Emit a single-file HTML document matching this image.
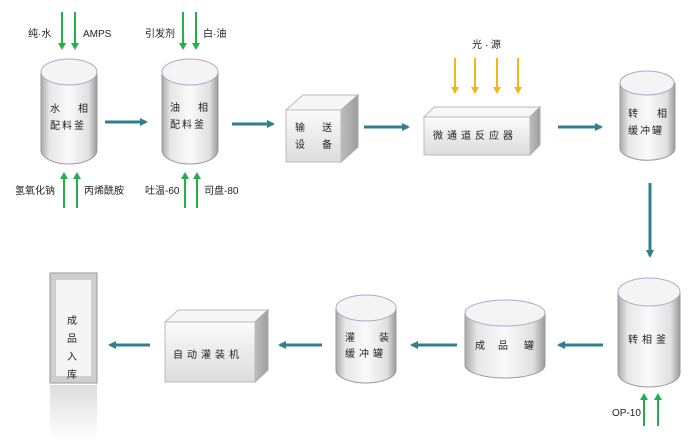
<!DOCTYPE html>
<html><head><meta charset="utf-8"><style>
html,body{margin:0;padding:0;background:#fff;}
svg{display:block;}
text{font-family:"Liberation Sans","Noto Sans CJK SC",sans-serif;font-size:10px;fill:#222;}
</style></head><body>
<svg width="700" height="445" viewBox="0 0 700 445" xmlns="http://www.w3.org/2000/svg">
<defs>
<linearGradient id="cyl" x1="0" x2="1" y1="0" y2="0">
<stop offset="0" stop-color="#a9a9a9"/><stop offset="0.15" stop-color="#e6e6e6"/><stop offset="0.5" stop-color="#fafafa"/><stop offset="0.85" stop-color="#e0e0e0"/><stop offset="1" stop-color="#9a9a9a"/></linearGradient>
<linearGradient id="box" x1="0" x2="0" y1="0" y2="1"><stop offset="0" stop-color="#fbfbfb"/><stop offset="1" stop-color="#dcdcdc"/></linearGradient>
<linearGradient id="side" x1="0" x2="1"><stop offset="0" stop-color="#bdbdbd"/><stop offset="1" stop-color="#9e9e9e"/></linearGradient>
<linearGradient id="refl" x1="0" x2="0" y1="0" y2="1"><stop offset="0" stop-color="#ddd"/><stop offset="1" stop-color="#fff"/></linearGradient>
<marker id="at" markerWidth="8" markerHeight="8" refX="6" refY="4" orient="auto" markerUnits="userSpaceOnUse"><path d="M0,0 L8,4 L0,8 z" fill="#2f7f8f"/></marker>
<marker id="ag" markerWidth="7" markerHeight="8" refX="5" refY="4" orient="auto" markerUnits="userSpaceOnUse"><path d="M0,0 L7,4 L0,8 z" fill="#22b04c"/></marker>
<marker id="ay" markerWidth="7" markerHeight="8" refX="5" refY="4" orient="auto" markerUnits="userSpaceOnUse"><path d="M0,0 L7,4 L0,8 z" fill="#f2b712"/></marker>
</defs>

<path d="M41,72 L41,150 A28,14 0 0 0 97,150 L97,72 Z" fill="url(#cyl)" stroke="#999"/>
<ellipse cx="69" cy="72" rx="28" ry="13" fill="#f4f4f4" stroke="#aac" />
<path d="M162,72 L162,150 A28,14 0 0 0 218,150 L218,72 Z" fill="url(#cyl)" stroke="#999"/>
<ellipse cx="190" cy="72" rx="28" ry="13" fill="#f4f4f4" stroke="#aac"/>
<path d="M620,83 L620,148 A27,12 0 0 0 675,148 L675,83 Z" fill="url(#cyl)" stroke="#999"/>
<ellipse cx="647" cy="83" rx="27" ry="12" fill="#f4f4f4" stroke="#aac"/>
<path d="M618,292 L618,373 A31,14 0 0 0 680,373 L680,292 Z" fill="url(#cyl)" stroke="#999"/>
<ellipse cx="649" cy="292" rx="31" ry="14" fill="#f4f4f4" stroke="#aac"/>
<path d="M465,313 L465,365 A40,13 0 0 0 545,365 L545,313 Z" fill="url(#cyl)" stroke="#999"/>
<ellipse cx="505" cy="313" rx="40" ry="13" fill="#f4f4f4" stroke="#aac"/>
<path d="M336,308 L336,370 A30,13 0 0 0 396,370 L396,308 Z" fill="url(#cyl)" stroke="#999"/>
<ellipse cx="366" cy="308" rx="30" ry="13" fill="#f4f4f4" stroke="#aac"/>

<polygon points="286,110 303,95 358,95 341,110" fill="#f6f6f6" stroke="#bbb"/>
<polygon points="341,110 358,95 358,147 341,162" fill="url(#side)" stroke="#aaa"/>
<rect x="286" y="110" width="55" height="52" fill="url(#box)" stroke="#bbb"/>
<polygon points="424,117 434,107 540,107 530,117" fill="#f6f6f6" stroke="#bbb"/>
<polygon points="530,117 540,107 540,145 530,155" fill="url(#side)" stroke="#aaa"/>
<rect x="424" y="117" width="106" height="38" fill="url(#box)" stroke="#bbb"/>
<polygon points="165,322 178,310 268,310 255,322" fill="#f6f6f6" stroke="#bbb"/>
<polygon points="255,322 268,310 268,370 255,382" fill="url(#side)" stroke="#aaa"/>
<rect x="165" y="322" width="90" height="60" fill="url(#box)" stroke="#bbb"/>
<rect x="50" y="273" width="47" height="110" fill="#cfcfcf" stroke="#999"/>
<rect x="56" y="280" width="35" height="96" fill="#f5f5f5"/>
<rect x="50" y="385" width="47" height="55" fill="url(#refl)"/>

<g stroke="#2f7f8f" stroke-width="3" fill="none">
<line x1="105" y1="122" x2="146" y2="122" marker-end="url(#at)"/>
<line x1="232" y1="124" x2="273" y2="124" marker-end="url(#at)"/>
<line x1="364" y1="127" x2="408" y2="127" marker-end="url(#at)"/>
<line x1="558" y1="127" x2="601" y2="127" marker-end="url(#at)"/>
<line x1="650" y1="183" x2="650" y2="256" marker-end="url(#at)"/>
<line x1="603" y1="345" x2="559" y2="345" marker-end="url(#at)"/>
<line x1="457" y1="345" x2="412" y2="345" marker-end="url(#at)"/>
<line x1="322" y1="345" x2="280" y2="345" marker-end="url(#at)"/>
<line x1="150" y1="345" x2="110" y2="345" marker-end="url(#at)"/>
</g>
<g stroke="#22b04c" stroke-width="2" fill="none">
<line x1="62" y1="12" x2="62" y2="48" marker-end="url(#ag)"/>
<line x1="75" y1="12" x2="75" y2="48" marker-end="url(#ag)"/>
<line x1="183" y1="12" x2="183" y2="48" marker-end="url(#ag)"/>
<line x1="196" y1="12" x2="196" y2="48" marker-end="url(#ag)"/>
<line x1="64" y1="208" x2="64" y2="174" marker-end="url(#ag)"/>
<line x1="77" y1="208" x2="77" y2="174" marker-end="url(#ag)"/>
<line x1="185" y1="208" x2="185" y2="174" marker-end="url(#ag)"/>
<line x1="197" y1="208" x2="197" y2="174" marker-end="url(#ag)"/>
<line x1="644" y1="426" x2="644" y2="395" marker-end="url(#ag)"/>
<line x1="658" y1="426" x2="658" y2="395" marker-end="url(#ag)"/>
</g>
<g stroke="#f2b712" stroke-width="2">
<line x1="455" y1="58" x2="455" y2="92" marker-end="url(#ay)"/>
<line x1="475" y1="58" x2="475" y2="92" marker-end="url(#ay)"/>
<line x1="497" y1="58" x2="497" y2="92" marker-end="url(#ay)"/>
<line x1="518" y1="58" x2="518" y2="92" marker-end="url(#ay)"/>
</g>

<text x="28" y="37">纯·水</text><text x="83" y="37" font-size="9">AMPS</text>
<text x="145" y="37">引发剂</text><text x="203" y="37">白·油</text>
<text x="15" y="194">氢氧化钠</text><text x="84" y="194">丙烯酰胺</text>
<text x="145" y="194">吐温-60</text><text x="204" y="194">司盘-80</text>
<text x="472" y="48">光 · 源</text>
<text x="612" y="416" font-size="9">OP-10</text>

<text x="50" y="112">水</text><text x="78" y="112">相</text>
<text x="50" y="129" letter-spacing="2">配料釜</text>
<text x="170" y="111">油</text><text x="198" y="111">相</text>
<text x="170" y="128" letter-spacing="2">配料釜</text>
<text x="295" y="131">输</text><text x="322" y="131">送</text>
<text x="295" y="148">设</text><text x="322" y="148">备</text>
<text x="433" y="139" letter-spacing="4">微通道反应器</text>
<text x="628" y="117">转</text><text x="657" y="117">相</text>
<text x="628" y="134" letter-spacing="2">缓冲罐</text>
<text x="628" y="343" letter-spacing="4">转相釜</text>
<text x="475" y="349">成</text><text x="498" y="349">品</text><text x="524" y="349">罐</text>
<text x="345" y="341">灌</text><text x="379" y="341">装</text>
<text x="345" y="357" letter-spacing="4">缓冲罐</text>
<text x="173" y="358" letter-spacing="4">自动灌装机</text>
<text x="67" y="324">成</text><text x="67" y="342">品</text><text x="67" y="360">入</text><text x="67" y="378">库</text>
</svg>
</body></html>
